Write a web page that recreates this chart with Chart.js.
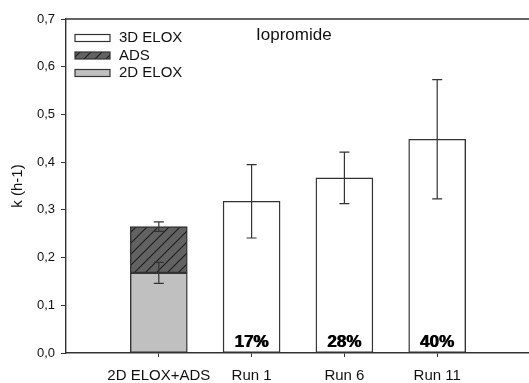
<!DOCTYPE html>
<html>
<head>
<meta charset="utf-8">
<script src="https://cdn.jsdelivr.net/npm/chart.js@4.4.1/dist/chart.umd.min.js"></script>
<style>
  html, body { margin: 0; padding: 0; background: #fff; overflow: hidden; }
</style>
</head>
<body>
<canvas id="chart" width="540" height="383"></canvas>
<script>
// data
const categories = ["", "2D ELOX+ADS", "Run 1", "Run 6", "Run 11", ""];
const elox2D     = [null, 0.168, null, null, null, null];
const elox2DErr  = [null, 0.022, null, null, null, null];
const ads        = [null, 0.097, null, null, null, null];
const adsErr     = [null, 0.010, null, null, null, null];
const elox3D     = [null, null, 0.318, 0.367, 0.448, null];
const elox3DErr  = [null, null, 0.077, 0.054, 0.125, null];
const percents   = ["", "", "17%", "28%", "40%", ""];
const yTicks     = [0, 0.1, 0.2, 0.3, 0.4, 0.5, 0.6, 0.7];
const chartTitle = "Iopromide";

const FONT = "'Liberation Sans', Arial, sans-serif";
const INK = "#333";

// hatched fill for ADS
function makeHatch() {
    const c = document.createElement("canvas");
    c.width = 11; c.height = 11;
    const g = c.getContext("2d");
    g.fillStyle = "#626262";
    g.fillRect(0, 0, 11, 11);
    g.strokeStyle = "#1e1e1e";
    g.lineWidth = 1.1;
    g.beginPath();
    g.moveTo(0, 11); g.lineTo(11, 0);
    g.moveTo(-2, 2); g.lineTo(2, -2);
    g.moveTo(9, 13); g.lineTo(13, 9);
    g.stroke();
    return g.createPattern(c, "repeat");
}
const hatch = makeHatch();

// error bars, percent labels, title, legend, top border
const extras = {
    id: "extras",
    afterDatasetsDraw(chart) {
        const ctx = chart.ctx;
        const y = chart.scales.y;
        const area = chart.chartArea;
        const px = v => y.getPixelForValue(0) - y.getPixelForValue(v);

        ctx.save();
        ctx.strokeStyle = INK;
        ctx.lineWidth = 1.2;
        chart.data.datasets.forEach((ds, i) => {
            const meta = chart.getDatasetMeta(i);
            meta.data.forEach((el, j) => {
                const e = ds.errors[j];
                if (ds.data[j] == null || e == null) return;
                const top = el.y - px(e), bot = el.y + px(e);
                ctx.beginPath();
                ctx.moveTo(el.x, top); ctx.lineTo(el.x, bot);
                ctx.moveTo(el.x - 5, top); ctx.lineTo(el.x + 5, top);
                ctx.moveTo(el.x - 5, bot); ctx.lineTo(el.x + 5, bot);
                ctx.stroke();
            });
        });

        // percent labels inside the 3D bars
        ctx.fillStyle = "#000";
        ctx.font = "bold 17px " + FONT;
        ctx.textAlign = "center";
        ctx.textBaseline = "alphabetic";
        percents.forEach((p, j) => {
            if (!p) return;
            const x = chart.scales.x.getPixelForValue(j);
            // a touch heavier, like the original
            ctx.fillText(p, x - 0.4, area.bottom - 6);
            ctx.fillText(p, x + 0.4, area.bottom - 6);
        });

        // top border
        ctx.beginPath();
        ctx.strokeStyle = INK;
        ctx.lineWidth = 1.3;
        ctx.moveTo(area.left, area.top);
        ctx.lineTo(area.right, area.top);
        ctx.moveTo(area.right, area.top);
        ctx.lineTo(area.right, area.bottom);
        ctx.stroke();

        // title
        ctx.font = "17px " + FONT;
        ctx.fillStyle = "#111";
        ctx.textAlign = "left";
        ctx.textBaseline = "middle";
        ctx.fillText(chartTitle, 256, 35);

        // legend
        const order = [2, 1, 0];
        ctx.font = "15px " + FONT;
        order.forEach((i, r) => {
            const ds = chart.data.datasets[i];
            const cy = 38 + r * 17.5;
            ctx.fillStyle = ds.backgroundColor;
            ctx.fillRect(75, cy - 3.5, 35, 7);
            ctx.strokeStyle = INK;
            ctx.lineWidth = 1.2;
            ctx.strokeRect(75, cy - 3.5, 35, 7);
            ctx.fillStyle = "#111";
            ctx.fillText(ds.label, 119, cy);
        });
        ctx.restore();
    }
};

new Chart(document.getElementById("chart"), {
    type: "bar",
    data: {
        labels: categories,
        datasets: [
            { label: "2D ELOX", data: elox2D, errors: elox2DErr, backgroundColor: "#c0c0c0" },
            { label: "ADS", data: ads, errors: adsErr, backgroundColor: hatch },
            { label: "3D ELOX", data: elox3D, errors: elox3DErr, backgroundColor: "#ffffff" }
        ]
    },
    options: {
        responsive: false,
        animation: false,
        layout: { padding: { top: 19, right: 9, left: 0, bottom: 0 } },
        datasets: {
            bar: {
                barThickness: 57,
                borderColor: INK,
                borderWidth: 1.4,
                borderSkipped: false
            }
        },
        plugins: {
            legend: { display: false },
            tooltip: { enabled: false }
        },
        scales: {
            x: {
                stacked: true,
                offset: false,
                afterFit: s => { s.height = 30; },
                grid: {
                    offset: false,
                    drawOnChartArea: false,
                    tickLength: 4,
                    color: c => (categories[c.index] ? INK : "rgba(0,0,0,0)")
                },
                border: { color: INK, width: 1.4 },
                ticks: {
                    autoSkip: false,
                    maxRotation: 0,
                    padding: 10,
                    color: "#111",
                    font: { family: FONT, size: 15 }
                }
            },
            y: {
                stacked: true,
                min: 0,
                max: 0.7,
                afterFit: s => { s.width = 66; },
                afterBuildTicks: s => { s.ticks = yTicks.map(v => ({ value: v })); },
                grid: { drawOnChartArea: false, tickLength: 5, color: INK },
                border: { color: INK, width: 1.4 },
                title: {
                    display: true,
                    text: "k (h-1)",
                    color: "#111",
                    padding: { top: 9, bottom: 4 },
                    font: { family: FONT, size: 15 }
                },
                ticks: {
                    padding: 6,
                    color: "#111",
                    font: { family: FONT, size: 13 },
                    callback: v => v.toFixed(1).replace(".", ",")
                }
            }
        }
    },
    plugins: [extras]
});
</script>
</body>
</html>
